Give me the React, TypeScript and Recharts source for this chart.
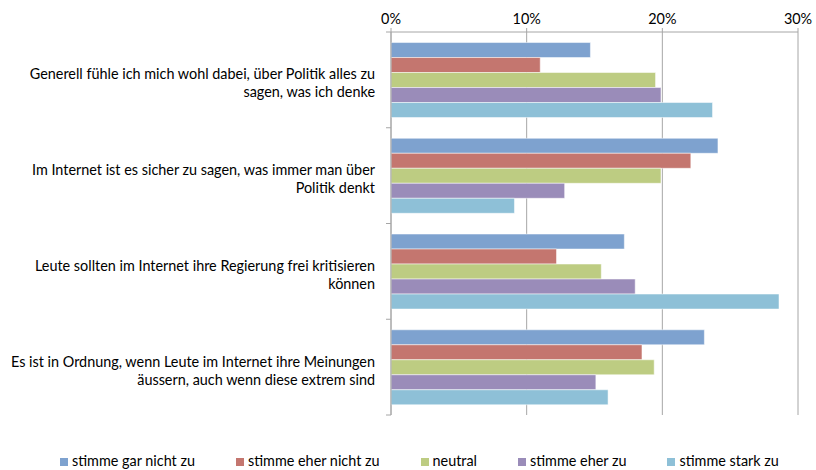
import { BarChart, Bar, XAxis, YAxis, CartesianGrid } from 'recharts'

// statements, top to bottom (line break where the original wraps)
const categories = [
  'Generell fühle ich mich wohl dabei, über Politik alles zu\nsagen, was ich denke',
  'Im Internet ist es sicher zu sagen, was immer man über\nPolitik denkt',
  'Leute sollten im Internet ihre Regierung frei kritisieren\nkönnen',
  'Es ist in Ordnung, wenn Leute im Internet ihre Meinungen\näussern, auch wenn diese extrem sind',
]

// share of answers in %
const garNichtZu = [14.7, 24.1, 17.2, 23.1]
const eherNichtZu = [11.0, 22.1, 12.2, 18.5]
const neutral = [19.5, 19.9, 15.5, 19.4]
const eherZu = [19.9, 12.8, 18.0, 15.1]
const starkZu = [23.7, 9.1, 28.6, 16.0]

const xTicks = [0, 10, 20, 30]

const series = [
  { key: 'garNichtZu', name: 'stimme gar nicht zu', color: '#7ea2cf', values: garNichtZu },
  { key: 'eherNichtZu', name: 'stimme eher nicht zu', color: '#c4766f', values: eherNichtZu },
  { key: 'neutral', name: 'neutral', color: '#bdcc82', values: neutral },
  { key: 'eherZu', name: 'stimme eher zu', color: '#9a8cb9', values: eherZu },
  { key: 'starkZu', name: 'stimme stark zu', color: '#8ec0d7', values: starkZu },
]

const data = categories.map((c, i) => {
  const row: Record<string, string | number> = { category: c }
  series.forEach(s => { row[s.key] = s.values[i] })
  return row
})

const FONT = 'Lato, "Open Sans", sans-serif'
const FONT_SIZE = 14.4
const AXIS_GREY = '#a6a6a6'
const WIDTH = 816
const HEIGHT = 470
const MARGIN = { top: 2, right: 18, bottom: 55, left: 0 }
const X_AXIS_HEIGHT = 30
const Y_AXIS_WIDTH = 391
const band = (HEIGHT - MARGIN.top - MARGIN.bottom - X_AXIS_HEIGHT) / categories.length

function CategoryTick(props: any) {
  const { y, payload, index } = props
  const lines = String(payload.value).split('\n')
  const axisX = MARGIN.left + Y_AXIS_WIDTH
  const textX = axisX - 16
  return (
    <g>
      <line x1={axisX - 5} x2={axisX} y1={y - band / 2} y2={y - band / 2} stroke={AXIS_GREY} />
      {index === categories.length - 1 && (
        <line x1={axisX - 5} x2={axisX} y1={y + band / 2} y2={y + band / 2} stroke={AXIS_GREY} />
      )}
      <text textAnchor="end" fontFamily={FONT} fontSize={FONT_SIZE} fill="#000">
        {lines.map((l, i) => (
          <tspan key={i} x={textX} y={y - 0.5 + i * 18}>{l}</tspan>
        ))}
      </text>
    </g>
  )
}

export default function App() {
  return (
    <div style={{ position: 'absolute', left: 0, top: 0, width: WIDTH, height: HEIGHT, background: '#fff' }}>
      <BarChart
        width={WIDTH}
        height={HEIGHT}
        data={data}
        layout="vertical"
        margin={MARGIN}
        barCategoryGap="11%"
        barGap={0}
      >
        <CartesianGrid horizontal={false} stroke={AXIS_GREY} />
        <XAxis
          type="number"
          orientation="top"
          domain={[0, 30]}
          ticks={xTicks}
          height={X_AXIS_HEIGHT}
          tickFormatter={(v) => `${v}%`}
          tick={{ fontSize: FONT_SIZE, fontFamily: FONT, fill: '#000' }}
          axisLine={{ stroke: AXIS_GREY }}
          tickLine={{ stroke: AXIS_GREY }}
          tickSize={4}
          tickMargin={4}
        />
        <YAxis
          type="category"
          dataKey="category"
          width={Y_AXIS_WIDTH}
          axisLine={{ stroke: AXIS_GREY }}
          tickLine={false}
          tick={<CategoryTick />}
          interval={0}
        />
        {series.map(s => (
          <Bar
            key={s.key}
            dataKey={s.key}
            name={s.name}
            fill={s.color}
            stroke="#ffffff"
            strokeOpacity={0.5}
            isAnimationActive={false}
          />
        ))}
      </BarChart>
      <div
        style={{
          position: 'absolute',
          left: 60,
          top: 452,
          display: 'flex',
          gap: 41,
          fontFamily: FONT,
          fontSize: FONT_SIZE,
          color: '#000',
          whiteSpace: 'nowrap',
        }}
      >
        {series.map(s => (
          <div key={s.key} style={{ display: 'flex', alignItems: 'center' }}>
            <span style={{ width: 8, height: 8, background: s.color, marginRight: 4, marginTop: 2 }} />
            <span>{s.name}</span>
          </div>
        ))}
      </div>
    </div>
  )
}
